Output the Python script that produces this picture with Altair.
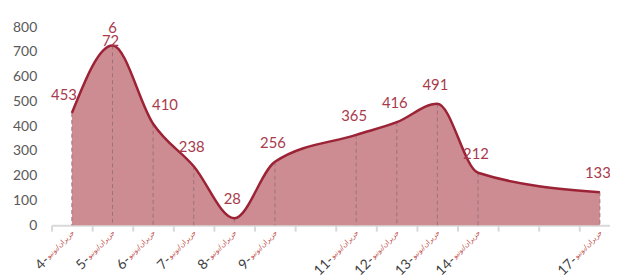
import altair as alt
import pandas as pd

days = [4, 5, 6, 7, 8, 9, 11, 12, 13, 14, 17]
values = [453, 726, 410, 238, 28, 256, 365, 416, 491, 212, 133]
day_labels = ["4-", "5-", "6-", "7-", "8-", "9-", "11-", "12-", "13-", "14-", "17-"]
month_label = "حزيران/يونيو"
tick_positions = [3.5 + i for i in range(14)]
y_ticks = list(range(0, 801, 100))

df = pd.DataFrame({
    "day": days,
    "value": values,
    "dlabel": day_labels,
    "month": [month_label] * len(days),
})

H = 200
W = 564
FILL = "#cd8b92"
LINE = "#9b2335"
LBL = "#a83a4c"

x = alt.X(
    "day:Q",
    scale=alt.Scale(domain=[3.5, 17.25], nice=False, zero=False),
    axis=alt.Axis(values=tick_positions, labels=False, title=None, grid=False,
                  domainColor="#d9d9d9", domainWidth=2, tickColor="#d9d9d9",
                  tickWidth=2, tickSize=6),
)
y = alt.Y(
    "value:Q",
    scale=alt.Scale(domain=[0, 800], nice=False),
    axis=alt.Axis(values=y_ticks, title=None, grid=False, domain=False, ticks=False,
                  labelFont="Lato", labelFontSize=14, labelColor="#595959",
                  labelPadding=15, labelOverlap=False, labelFlush=False),
)

base = alt.Chart(df)

area = base.mark_area(interpolate="monotone", color=FILL).encode(x=x, y=y)
rules = base.mark_rule(strokeDash=[4, 3], color="#9a7479", strokeWidth=1).encode(
    x=x, y=y, y2=alt.datum(0))
line = base.mark_line(interpolate="monotone", color=LINE, strokeWidth=2.5).encode(
    x=x, y=y)

lab_common = dict(font="Lato", fontSize=15, color=LBL, baseline="middle")
labels = base.transform_filter("datum.day != 4 && datum.day != 5 && datum.day != 6").mark_text(
    dy=-19, dx=-2, **lab_common).encode(x=x, y=y, text="value:Q")
lab4 = base.transform_filter("datum.day == 4").mark_text(
    dy=-18, dx=-8, **lab_common).encode(x=x, y=y, text="value:Q")
lab6 = base.transform_filter("datum.day == 6").mark_text(
    dy=-19, dx=12, **lab_common).encode(x=x, y=y, text="value:Q")
lab5a = base.transform_filter("datum.day == 5").transform_calculate(
    t="slice(toString(datum.value), 0, 2)").mark_text(
    dy=-4, dx=-2, **lab_common).encode(x=x, y=y, text="t:N")
lab5b = base.transform_filter("datum.day == 5").transform_calculate(
    t="slice(toString(datum.value), 2)").mark_text(
    dy=-18, **lab_common).encode(x=x, y=y, text="t:N")

month_txt = base.mark_text(angle=315, align="right", baseline="middle", fontSize=7,
                           color="#c0504d", font="DejaVu Sans", dx=2).encode(
    x=x, y=alt.value(H + 8), text="month:N")
num_txt = base.mark_text(angle=315, align="right", baseline="middle", fontSize=14,
                         color="#404040", font="Lato", dx=-37, dy=2).encode(
    x=x, y=alt.value(H + 6), text="dlabel:N")

chart = alt.layer(area, rules, line, labels, lab4, lab6, lab5a, lab5b, month_txt, num_txt).properties(
    width=W, height=H,
    autosize=alt.AutoSizeParams(type="none"),
    padding={"left": 44, "top": 18, "right": 0, "bottom": 53},
).configure_view(stroke=None)

chart.save("out.html", embed_options={"renderer": "svg", "actions": False})
